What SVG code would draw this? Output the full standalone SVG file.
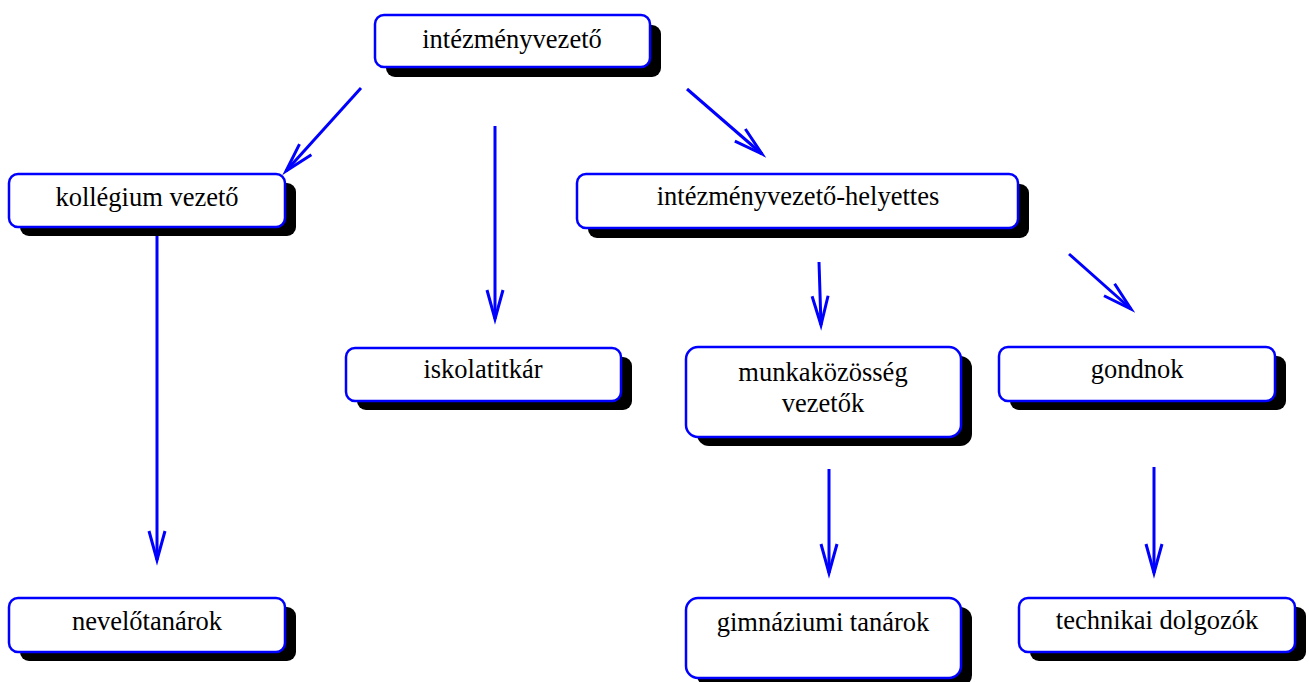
<svg xmlns="http://www.w3.org/2000/svg" width="1309" height="682" viewBox="0 0 1309 682">
<style>
.sh{fill:#000}
.bx{fill:#fff;stroke:#0000ff;stroke-width:2.5}
.t{font-family:"Liberation Serif","Times New Roman",serif;font-size:26.5px;fill:#000;text-anchor:middle}
.c{stroke:#0000ff;stroke-width:3;fill:none}
</style>
<defs>
<marker id="ah" markerUnits="userSpaceOnUse" markerWidth="40" markerHeight="30" viewBox="-32 -15 40 30" refX="0" refY="0" orient="auto" overflow="visible">
<path d="M-29,-8 L0,0 L-29,8" fill="none" stroke="#0000ff" stroke-width="3"/>
</marker>
</defs>
<rect width="1309" height="682" fill="#fff"/>
<g id="connectors">
<line class="c" x1="361" y1="88" x2="286" y2="171" marker-end="url(#ah)"/>
<line class="c" x1="495" y1="126" x2="495" y2="319" marker-end="url(#ah)"/>
<line class="c" x1="687" y1="89" x2="762" y2="154" marker-end="url(#ah)"/>
<line class="c" x1="157" y1="228" x2="157" y2="560" marker-end="url(#ah)"/>
<line class="c" x1="819" y1="262" x2="821" y2="325" marker-end="url(#ah)"/>
<line class="c" x1="1069" y1="254" x2="1131" y2="309" marker-end="url(#ah)"/>
<line class="c" x1="829" y1="469" x2="829" y2="573" marker-end="url(#ah)"/>
<line class="c" x1="1154" y1="467" x2="1154" y2="573" marker-end="url(#ah)"/>
</g>
<g id="n1">
<rect class="sh" x="386" y="25" width="275" height="52" rx="9"/>
<rect class="bx" x="375" y="15" width="275" height="52" rx="9"/>
<text class="t" x="512" y="48">intézményvezető</text>
</g>
<g id="n2">
<rect class="sh" x="20" y="183" width="276" height="53" rx="9"/>
<rect class="bx" x="9" y="174" width="276" height="53" rx="9"/>
<text class="t" x="147" y="206">kollégium vezető</text>
</g>
<g id="n3">
<rect class="sh" x="588" y="184" width="441" height="54" rx="9"/>
<rect class="bx" x="577" y="174" width="441" height="54" rx="9"/>
<text class="t" x="798" y="205">intézményvezető-helyettes</text>
</g>
<g id="n4">
<rect class="sh" x="357" y="357" width="275" height="53" rx="9"/>
<rect class="bx" x="346" y="348" width="275" height="53" rx="9"/>
<text class="t" x="483" y="378">iskolatitkár</text>
</g>
<g id="n5">
<rect class="sh" x="697" y="356" width="275" height="90" rx="12"/>
<rect class="bx" x="686" y="347" width="275" height="90" rx="12"/>
<text class="t" x="823" y="381">munkaközösség</text>
<text class="t" x="823" y="412">vezetők</text>
</g>
<g id="n6">
<rect class="sh" x="1010" y="356" width="276" height="54" rx="9"/>
<rect class="bx" x="999" y="347" width="276" height="54" rx="9"/>
<text class="t" x="1137" y="378">gondnok</text>
</g>
<g id="n7">
<rect class="sh" x="20" y="607" width="276" height="54" rx="9"/>
<rect class="bx" x="9" y="598" width="276" height="54" rx="9"/>
<text class="t" x="147" y="630">nevelőtanárok</text>
</g>
<g id="n8">
<rect class="sh" x="697" y="607" width="275" height="80" rx="12"/>
<rect class="bx" x="686" y="598" width="275" height="80" rx="12"/>
<text class="t" x="823" y="631">gimnáziumi tanárok</text>
</g>
<g id="n9">
<rect class="sh" x="1030" y="607" width="276" height="54" rx="9"/>
<rect class="bx" x="1019" y="598" width="276" height="54" rx="9"/>
<text class="t" x="1157" y="629">technikai dolgozók</text>
</g>
</svg>
